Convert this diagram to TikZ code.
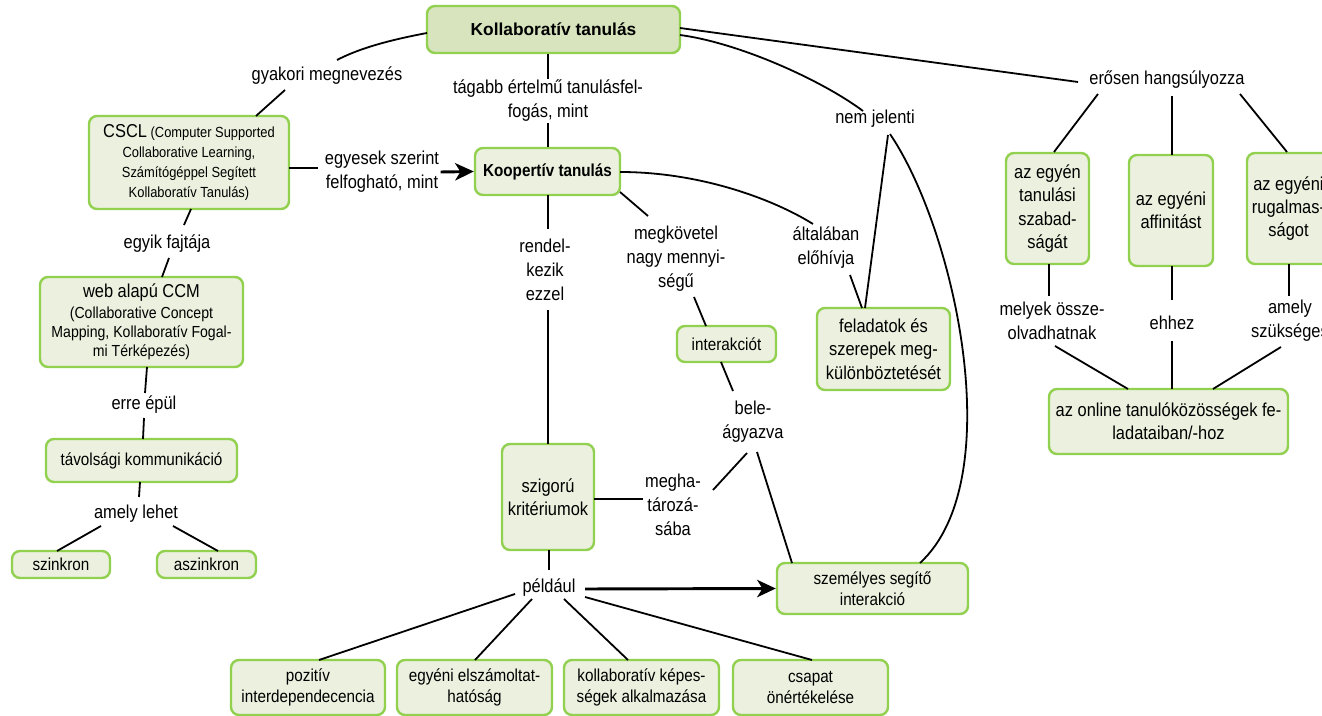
\documentclass[tikz,border=0pt]{standalone}
\usepackage{fontspec}
\setmainfont{Liberation Sans}[FakeStretch=0.88]
\newfontfamily\titlefont{Liberation Sans}
\usetikzlibrary{arrows.meta}
\definecolor{bord}{HTML}{92D050}
\definecolor{boxfill}{HTML}{EBF1DE}
\definecolor{titlefill}{HTML}{D7E4BD}
\tikzset{
 box/.style={draw=bord, line width=1.8pt, fill=boxfill, rounded corners=6pt, align=center, inner sep=1pt, font=\fontsize{13}{15.5}\selectfont},
 bigbox/.style={box, font=\fontsize{14}{17.5}\selectfont},
 lbl/.style={align=center, inner sep=1pt, font=\fontsize{14}{18}\selectfont},
 conn/.style={line width=1.35pt},
 arr/.style={line width=2.2pt, -{Stealth[length=14pt,width=13pt,inset=4pt]}},
}
\begin{document}
\begin{tikzpicture}[x=0.75pt,y=-0.75pt]
\useasboundingbox (0,0) rectangle (1322,716);
% boxes
\node[box, minimum width=189.75pt, minimum height=35.25pt, fill=titlefill, font=\titlefont\bfseries\fontsize{13}{15}\selectfont] (koll) at (553.5,29.5) {Kollaboratív tanulás};
\node[box, minimum width=150pt, minimum height=69.75pt, font=\fontsize{11}{15}\selectfont] (cscl) at (189,162.5) {{\fontsize{14}{15}\selectfont CSCL} (Computer Supported\\Collaborative Learning,\\Számítógéppel Segített\\Kollaboratív Tanulás)};
\node[box, minimum width=108.75pt, minimum height=35.25pt, font=\bfseries\fontsize{13}{15}\selectfont] (koop) at (547.5,171.5) {Koopertív tanulás};
\node[box, minimum width=152.25pt, minimum height=67.5pt, font=\fontsize{12}{14.3}\selectfont] (ccm) at (141.5,322) {{\fontsize{14}{15}\selectfont web alapú CCM}\\[1.4pt](Collaborative Concept\\Mapping, Kollaboratív Fogal-\\mi Térképezés)};
\node[box, minimum width=143.25pt, minimum height=32.25pt] (tav) at (141.5,460.5) {távolsági kommunikáció};
\node[box, minimum width=73.5pt, minimum height=20.25pt] (szink) at (61,564.5) {szinkron};
\node[box, minimum width=74.25pt, minimum height=20.25pt] (aszink) at (206.5,564.5) {aszinkron};
\node[box, minimum width=74.25pt, minimum height=27pt] (inter) at (726.5,344) {interakciót};
\node[bigbox, minimum width=99.75pt, minimum height=61.5pt] (felad) at (883.5,349) {feladatok és\\szerepek meg-\\különböztetését};
\node[bigbox, minimum width=69pt, minimum height=79.5pt] (szig) at (548,497) {szigorú\\kritériumok};
\node[box, minimum width=143.25pt, minimum height=38.25pt] (szem) at (872.5,588.5) {személyes segítő\\interakció};
\node[box, minimum width=115.5pt, minimum height=41.25pt] (poz) at (308,687.5) {pozitív\\interdependecencia};
\node[box, minimum width=116.25pt, minimum height=41.25pt] (egy) at (474.5,687.5) {egyéni elszámoltat-\\hatóság};
\node[box, minimum width=116.25pt, minimum height=41.25pt] (kol2) at (641.5,687.5) {kollaboratív képes-\\ségek alkalmazása};
\node[box, minimum width=116.25pt, minimum height=41.25pt] (csap) at (810.5,687.5) {csapat\\önértékelése};
\node[bigbox, minimum width=62.25pt, minimum height=83.25pt] (ind1) at (1047.5,208.5) {az egyén\\tanulási\\szabad-\\ságát};
\node[bigbox, minimum width=63pt, minimum height=83.25pt] (ind2) at (1171,210.5) {az egyéni\\affinitást};
\node[bigbox, minimum width=62.25pt, minimum height=83.25pt] (ind3) at (1288.5,208.5) {az egyéni\\rugalmas-\\ságot};
\node[bigbox, minimum width=179.25pt, minimum height=48.75pt] (online) at (1168.5,421.5) {az online tanulóközösségek fe-\\ladataiban/-hoz};
% labels
\node[lbl] (gyak) at (327,76) {gyakori megnevezés};
\node[lbl] (tag) at (548,101) {tágabb értelmű tanulásfel-\\fogás, mint};
\node[lbl] (egyes) at (382,172) {egyesek szerint\\felfogható, mint};
\node[lbl] (nem) at (875,119) {nem jelenti};
\node[lbl] (eros) at (1167,80) {erősen hangsúlyozza};
\node[lbl] (egyik) at (167,244) {egyik fajtája};
\node[lbl] (erre) at (144,405) {erre épül};
\node[lbl] (amelyl) at (136,514) {amely lehet};
\node[lbl] (rend) at (545,270) {rendel-\\kezik\\ezzel};
\node[lbl] (megk) at (676,259) {megkövetel\\nagy mennyi-\\ségű};
\node[lbl] (alt) at (826,248) {általában\\előhívja};
\node[lbl] (bele) at (753,422) {bele-\\ágyazva};
\node[lbl] (megha) at (673,505) {megha-\\tározá-\\sába};
\node[lbl] (pl) at (549,588) {például};
\node[lbl] (mely) at (1052,321) {melyek össze-\\olvadhatnak};
\node[lbl] (ehhez) at (1172,323) {ehhez};
\node[lbl] (amely2) at (1290,321) {amely\\szükséges};
% connectors
\draw[conn] ([shift={(-126.5,3.5)}]koll.center) .. controls +(-37,7) and +(23,-12) .. ([shift={(10,-16)}]gyak.center);
\draw[conn] ([shift={(-42,14)}]gyak.center) -- ([shift={(67,-46.5)}]cscl.center);
\draw[conn] (koll.south -| tag.center) -- (tag.north);
\draw[conn] (tag.south) -- (koop.north -| tag.center);
\draw[conn] ([shift={(100,5.5)}]cscl.center) -- ([shift={(-64,-4)}]egyes.center);
\draw[arr] (egyes.east) -- (koop.west);
\draw[conn] ([shift={(2,46.5)}]cscl.center) -- ([shift={(17,-19)}]egyik.center);
\draw[conn] ([shift={(2,14)}]egyik.center) -- ([shift={(20.5,-45)}]ccm.center);
\draw[conn] ([shift={(5.5,45)}]ccm.center) -- ([shift={(1,-12)}]erre.center);
\draw[conn] ([shift={(0,13)}]erre.center) -- ([shift={(1.5,-21.5)}]tav.center);
\draw[conn] ([shift={(-1.5,21.5)}]tav.center) -- ([shift={(3,-17)}]amelyl.center);
\draw[conn] ([shift={(-35,12)}]amelyl.center) -- ([shift={(-4,-13.5)}]szink.center);
\draw[conn] ([shift={(37,12)}]amelyl.center) -- ([shift={(11.5,-13.5)}]aszink.center);
\draw[conn] ([shift={(0.5,23.5)}]koop.center) -- ([shift={(3,-41)}]rend.center);
\draw[conn] ([shift={(3,40)}]rend.center) -- ([shift={(0,-53)}]szig.center);
\draw[conn] ([shift={(72.5,20.5)}]koop.center) -- ([shift={(-28,-43)}]megk.center);
\draw[conn] ([shift={(18,38)}]megk.center) -- ([shift={(-20.5,-18)}]inter.center);
\draw[conn] ([shift={(-5.5,18)}]inter.center) -- ([shift={(-20,-31)}]bele.center);
\draw[conn] ([shift={(72.5,0.5)}]koop.center) .. controls +(80,0) and +(-40,-25) .. ([shift={(-13,-24)}]alt.center);
\draw[conn] ([shift={(24,27)}]alt.center) -- ([shift={(-21.5,-41)}]felad.center);
\draw[conn] ([shift={(126.5,5.5)}]koll.center) .. controls +(60,8) and +(-40,-30) .. ([shift={(-12,-8)}]nem.center);
\draw[conn] ([shift={(13,16)}]nem.center) -- ([shift={(-18.5,-41)}]felad.center);
\draw[conn] ([shift={(15,15)}]nem.center) .. controls +(65,96) and +(90,-83) .. ([shift={(47.5,-25.5)}]szem.center);
\draw[conn] ([shift={(4,30)}]bele.center) -- ([shift={(-80.5,-25.5)}]szem.center);
\draw[conn] ([shift={(46,2)}]szig.center) -- ([shift={(-30,-6)}]megha.center);
\draw[conn] ([shift={(40,-15)}]megha.center) -- ([shift={(-6,31)}]bele.center);
\draw[conn] ([shift={(1,53)}]szig.center) -- ([shift={(0,-18)}]pl.center);
\draw[conn] ([shift={(-34,6)}]pl.center) -- ([shift={(11,-27.5)}]poz.center);
\draw[conn] ([shift={(-17,11)}]pl.center) -- ([shift={(0.5,-27.5)}]egy.center);
\draw[conn] ([shift={(15,11)}]pl.center) -- ([shift={(-13.5,-27.5)}]kol2.center);
\draw[conn] ([shift={(36,9)}]pl.center) -- ([shift={(1.5,-27.5)}]csap.center);
\draw[arr] ([shift={(36,1)}]pl.center) -- (szem.west);
\draw[conn] ([shift={(126.5,-1.5)}]koll.center) -- ([shift={(-89,2)}]eros.center);
\draw[conn] ([shift={(-69,14)}]eros.center) -- ([shift={(6.5,-56.5)}]ind1.center);
\draw[conn] ([shift={(5,16)}]eros.center) -- ([shift={(1,-55.5)}]ind2.center);
\draw[conn] ([shift={(73,14)}]eros.center) -- ([shift={(-1.5,-56.5)}]ind3.center);
\draw[conn] ([shift={(1.5,55.5)}]ind1.center) -- ([shift={(-3,-25)}]mely.center);
\draw[conn] ([shift={(1,55.5)}]ind2.center) -- ([shift={(0,-23)}]ehhez.center);
\draw[conn] ([shift={(0.5,55.5)}]ind3.center) -- ([shift={(-1,-25)}]amely2.center);
\draw[conn] ([shift={(3,25)}]mely.center) -- ([shift={(-40.5,-32.5)}]online.center);
\draw[conn] ([shift={(0,18)}]ehhez.center) -- ([shift={(3.5,-32.5)}]online.center);
\draw[conn] ([shift={(-9,26)}]amely2.center) -- ([shift={(44.5,-32.5)}]online.center);
\end{tikzpicture}
\end{document}
